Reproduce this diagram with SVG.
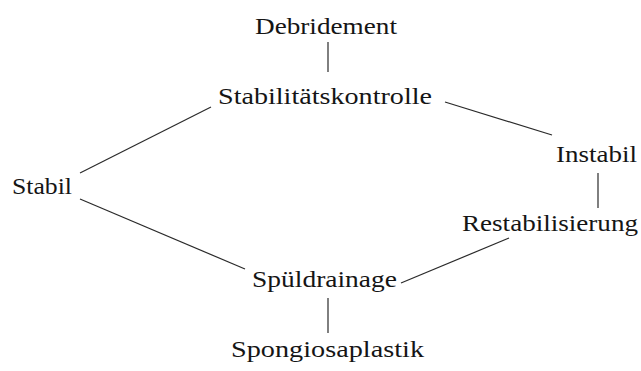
<svg xmlns="http://www.w3.org/2000/svg" width="641" height="371" viewBox="0 0 641 371">
<style>
.t{font-family:"Liberation Serif","Times New Roman",serif;font-size:23px;fill:#151515}
.c line{stroke:#2a2a2a;stroke-width:1.2;fill:none}
</style>
<rect width="641" height="371" fill="#ffffff"/>
<g class="c" id="connectors">
<line x1="328" y1="42" x2="328" y2="72"/>
<line x1="80" y1="173" x2="211" y2="107"/>
<line x1="445" y1="102" x2="552" y2="135"/>
<line x1="598" y1="173" x2="598" y2="208"/>
<line x1="80" y1="199" x2="245" y2="269"/>
<line x1="401" y1="283" x2="509" y2="238"/>
<line x1="328" y1="298" x2="328" y2="333"/>
</g>
<g id="debridement"><text class="t" x="255" y="34" textLength="142" lengthAdjust="spacingAndGlyphs">Debridement</text></g>
<g id="stabilitaetskontrolle"><text class="t" x="218" y="104" textLength="214" lengthAdjust="spacingAndGlyphs">Stabilitätskontrolle</text></g>
<g id="stabil"><text class="t" x="12" y="194" textLength="60" lengthAdjust="spacingAndGlyphs">Stabil</text></g>
<g id="instabil"><text class="t" x="556" y="162" textLength="81" lengthAdjust="spacingAndGlyphs">Instabil</text></g>
<g id="restabilisierung"><text class="t" x="462" y="231" textLength="176" lengthAdjust="spacingAndGlyphs">Restabilisierung</text></g>
<g id="spueldrainage"><text class="t" x="252" y="287" textLength="145" lengthAdjust="spacingAndGlyphs">Spüldrainage</text></g>
<g id="spongiosaplastik"><text class="t" x="231" y="357" textLength="193" lengthAdjust="spacingAndGlyphs">Spongiosaplastik</text></g>
</svg>
